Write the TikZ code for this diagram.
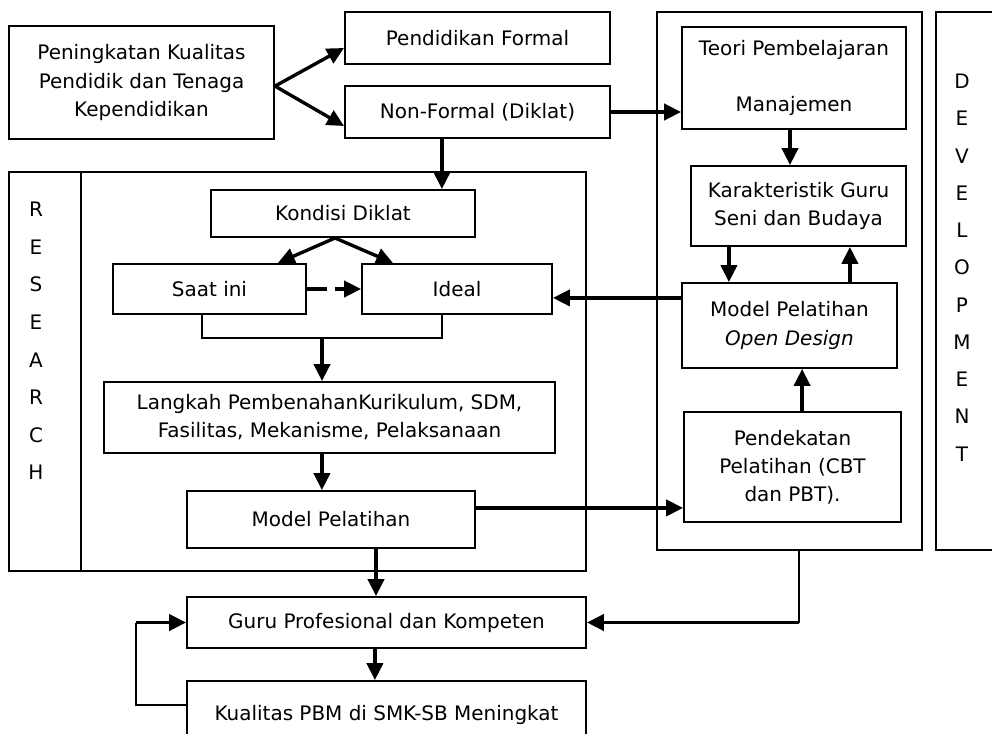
\documentclass[tikz,border=0pt]{standalone}
\usepackage{fontspec}
\setmainfont{DejaVu Sans}
\usepackage{tikz}
\usetikzlibrary{positioning,arrows.meta}
\tikzstyle{box} = [rectangle, draw=black, line width=1.4pt, align=center, inner sep=0pt, font=\fontsize{14.2pt}{20pt}\selectfont]
\tikzstyle{frame} = [rectangle, draw=black, line width=1.4pt, inner sep=0pt]
\tikzstyle{arrow} = [line width=2.4pt,-{Triangle[length=12pt,width=11.5pt]}]
\tikzstyle{link} = [line width=1.2pt]

\begin{document}
\begin{tikzpicture}
 \useasboundingbox (0,0) rectangle (24.8,-18.325);
% frames
 \node[frame, minimum width=14.425cm, minimum height=9.975cm] (resframe) at (7.4375,-9.2875) {};
 \node[frame, minimum width=6.625cm, minimum height=13.45cm] (devframe) at (19.7375,-7.025) {};
 \node[frame, minimum width=2.1cm, minimum height=13.45cm] (devbox) at (24.45,-7.025) {};
 \draw[line width=1.4pt] ([xshift=1.825cm]resframe.north west) -- ([xshift=1.825cm]resframe.south west);
 \node[align=center, font=\fontsize{14.2pt}{26.7pt}\selectfont] (restext) at (0.9,-8.525)
              {R\\E\\S\\E\\A\\R\\C\\H};
 \node[align=center, font=\fontsize{14.2pt}{26.5pt}\selectfont] (devtext) at (24.05,-6.6875)
              {D\\E\\V\\E\\L\\O\\P\\M\\E\\N\\T};
% left side
 \node[box, minimum width=6.625cm, minimum height=2.825cm] (pkk) at (3.5375,-2.0625)
              {Peningkatan Kualitas\\Pendidik dan Tenaga\\Kependidikan};
 \node[box, minimum width=6.625cm, minimum height=1.3cm] (formal) at (11.9375,-0.95)
              {Pendidikan Formal};
 \node[box, minimum width=6.625cm, minimum height=1.3cm] (nonformal) at (formal) [yshift=-1.85cm]
              {Non-Formal (Diklat)};
 \node[box, minimum width=6.6cm, minimum height=1.175cm] (kondisi) at (8.575,-5.3375)
              {Kondisi Diklat};
 \node[box, minimum width=4.825cm, minimum height=1.25cm] (saat) at (5.2375,-7.225)
              {Saat ini};
 \node[box, minimum width=4.75cm, minimum height=1.25cm] (ideal) at (saat) [xshift=6.1875cm]
              {Ideal};
 \node[box, minimum width=11.275cm, minimum height=1.775cm] (langkah) at (8.2375,-10.4375)
              {Langkah PembenahanKurikulum, SDM,\\Fasilitas, Mekanisme, Pelaksanaan};
 \node[box, minimum width=7.2cm, minimum height=1.425cm] (mpel) at (8.275,-12.9875)
              {Model Pelatihan};
 \node[box, minimum width=9.975cm, minimum height=1.275cm] (guru) at (9.6625,-15.5625)
              {Guru Profesional dan Kompeten};
 \node[box, minimum width=9.975cm, minimum height=1.7cm] (kualitas) at (guru) [yshift=-2.3125cm]
              {Kualitas PBM di SMK-SB Meningkat};
% right side
 \node[box, minimum width=5.6cm, minimum height=2.55cm] (teori) at (19.85,-1.95)
              {Teori Pembelajaran\\[20pt]Manajemen};
 \node[box, minimum width=5.375cm, minimum height=2cm] (karak) at (19.9625,-5.15)
              {Karakteristik Guru\\Seni dan Budaya};
 \node[box, minimum width=5.375cm, minimum height=2.125cm] (opend) at (19.7375,-8.1375)
              {Model Pelatihan\\\textit{Open Design}};
 \node[box, minimum width=5.425cm, minimum height=2.75cm] (pendek) at (19.8125,-11.675)
              {Pendekatan\\Pelatihan (CBT\\dan PBT).};
 \coordinate (brk) at (8.05,-8.45);
 \coordinate (fbk) at (3.4,-15.5625);
 \coordinate (devout) at ([xshift=0.24cm]devframe.south |- guru.east);
% arrows
 \draw[arrow] ([yshift=-0.09cm]pkk.east) -- ([yshift=-0.25cm]formal.west);
 \draw[arrow] ([yshift=-0.09cm]pkk.east) -- ([yshift=-0.35cm]nonformal.west);
 \draw[arrow] ([xshift=-0.89cm]nonformal.south) -- ([xshift=-0.89cm]nonformal.south |- kondisi.north);
 \draw[arrow] (nonformal.east) -- (nonformal.east -| teori.west);
 \draw[arrow] ([xshift=-0.1cm]teori.south) -- ([xshift=-0.1cm]teori.south |- karak.north);
 \draw[arrow] ([xshift=-1.74cm]karak.south) -- ([xshift=-1.74cm]karak.south |- opend.north);
 \draw[arrow] ([xshift=1.51cm]opend.north) -- ([xshift=1.51cm]opend.north |- karak.south);
 \draw[arrow] ([xshift=0.24cm]pendek.north) -- ([xshift=0.24cm]pendek.north |- opend.south);
 \draw[arrow] ([yshift=0.69cm]opend.west) -- ([yshift=0.69cm]opend.west -| ideal.east);
 \draw[arrow] ([xshift=-0.2cm]kondisi.south) -- ([xshift=1.71cm]saat.north);
 \draw[arrow] ([xshift=-0.2cm]kondisi.south) -- ([xshift=-1.6cm]ideal.north);
 \draw[arrow,dash pattern=on 14pt off 6pt] (saat.east) -- (ideal.west);
 \draw[link] ([xshift=-0.19cm]saat.south) |- (brk) -| ([xshift=-0.375cm]ideal.south);
 \draw[arrow] (brk) -- (brk |- langkah.north);
 \draw[arrow] ([xshift=-0.19cm]langkah.south) -- ([xshift=-0.19cm]langkah.south |- mpel.north);
 \draw[arrow] ([yshift=0.29cm]mpel.east) -- ([yshift=0.29cm]mpel.east -| pendek.west);
 \draw[arrow] ([xshift=1.125cm]mpel.south) -- ([xshift=1.125cm]mpel.south |- guru.north);
 \draw[arrow] ([xshift=-0.29cm]guru.south) -- ([xshift=-0.29cm]guru.south |- kualitas.north);
 \draw[link] ([yshift=0.25cm]kualitas.west) -| (fbk);
 \draw[arrow] (fbk) -- (guru.west);
 \draw[link] ([xshift=0.24cm]devframe.south) -- (devout);
 \draw[arrow] (devout) -- (guru.east);
\end{tikzpicture}
\end{document}
